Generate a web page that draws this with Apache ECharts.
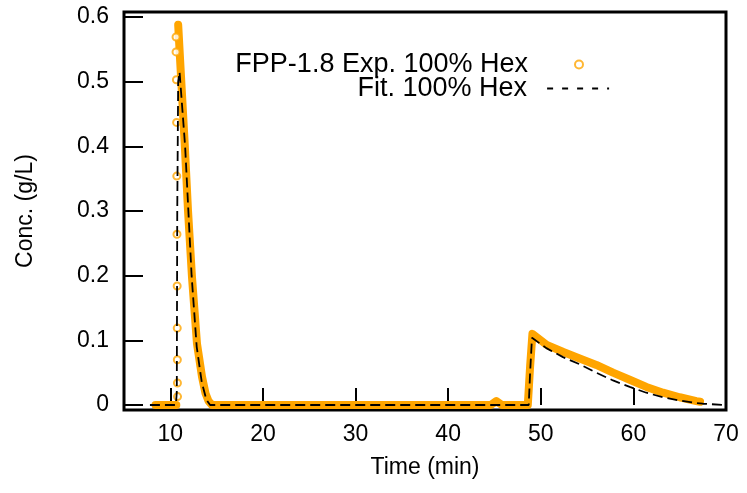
<!DOCTYPE html>
<html>
<head>
<meta charset="utf-8">
<script src="https://cdn.jsdelivr.net/npm/echarts@6/dist/echarts.min.js"></script>
<style>html,body{margin:0;padding:0;background:#fff;}#c{width:747px;height:493px;}</style>
</head>
<body>
<div id="c"></div>
<script>
const expName = 'FPP-1.8 Exp. 100% Hex';
const fitName = 'Fit. 100% Hex';
const xTickLabels = [10, 20, 30, 40, 50, 60, 70];
const xTicks = [10, 20, 30, 40, 50, 60];
const yTickLabels = [0, 0.1, 0.2, 0.3, 0.4, 0.5, 0.6];

// experimental: baseline before injection, then (gap) falling peak, plateau, second peak
const expLine = [
  [8.4, 0], [10.65, 0], [10.7, null],
  [10.85, 0.588], [11.16, 0.507], [11.55, 0.405], [11.91, 0.301], [12.34, 0.198],
  [12.88, 0.095], [13.42, 0.044], [13.8, 0.018], [14.13, 0.006], [14.5, 0.0],
  [44.6, 0], [45.2, 0.006], [45.8, 0], [48.6, 0], [48.85, 0.06], [49.1, 0.110],
  [50.64, 0.093], [52.43, 0.082], [54.2, 0.072], [56.0, 0.062], [57.8, 0.050],
  [59.6, 0.039], [61.4, 0.028], [63.2, 0.019], [65.0, 0.012], [66.8, 0.006], [67.2, 0.005]
];
// experimental: sparse points on the steep rise
const expRise = [
  [10.78, 0.013], [10.77, 0.034], [10.76, 0.070], [10.75, 0.119], [10.74, 0.184],
  [10.72, 0.264], [10.70, 0.354], [10.68, 0.437], [10.66, 0.503], [10.62, 0.546], [10.62, 0.569]
];
// fit
const fitLine = [
  [7.8, 0], [10.6, 0], [10.7, 0.02], [10.75, 0.3], [10.85, 0.5], [11.0, 0.515],
  [11.6, 0.40], [12.3, 0.20], [12.85, 0.09], [13.4, 0.035], [13.9, 0.008], [14.3, 0],
  [48.7, 0], [48.85, 0.05], [49.05, 0.104], [50.6, 0.088], [52.4, 0.074], [54.2, 0.063],
  [56.0, 0.050], [57.8, 0.038], [59.6, 0.028], [61.4, 0.019], [63.2, 0.012],
  [65.0, 0.007], [66.8, 0.003], [67.5, 0.002], [70, 0]
];

const FONT = "'Liberation Sans', Arial, sans-serif";
const ORANGE = '#FFA500';
const chart = echarts.init(document.getElementById('c'), null, {renderer: 'canvas'});
chart.setOption({
  animation: false,
  backgroundColor: '#fff',
  textStyle: {fontFamily: FONT},
  grid: {left: 124, right: 21, top: 12, bottom: 83, show: true, borderColor: '#000', borderWidth: 3, backgroundColor: 'transparent'},
  legend: [
    {
      data: [expName],
      orient: 'vertical', align: 'right', right: 163, top: 51, padding: 0,
      itemWidth: 62, itemHeight: 8, selectedMode: false,
      textStyle: {fontSize: 27, color: '#000', fontFamily: FONT, padding: [0, 15, 0, 0]}
    },
    {
      data: [fitName],
      orient: 'vertical', align: 'right', right: 137, top: 75, padding: 0,
      itemWidth: 62, itemHeight: 8, selectedMode: false,
      lineStyle: {type: [6, 9], width: 1.8, color: '#000'},
      textStyle: {fontSize: 27, color: '#000', fontFamily: FONT, padding: [0, 15, 0, 0]}
    }
  ],
  xAxis: {
    type: 'value', min: 5, max: 70,
    name: 'Time (min)', nameLocation: 'middle', nameGap: 46,
    nameTextStyle: {fontSize: 23, color: '#000', fontFamily: FONT},
    axisLine: {show: false},
    splitLine: {show: false},
    axisTick: {show: true, inside: true, length: 17, customValues: xTicks, lineStyle: {color: '#000', width: 2}},
    axisLabel: {customValues: xTickLabels, fontSize: 23, color: '#000', margin: 13, fontFamily: FONT}
  },
  yAxis: {
    type: 'value', min: -0.0077, max: 0.6077,
    name: 'Conc. (g/L)', nameLocation: 'middle', nameGap: 87,
    nameTextStyle: {fontSize: 23, color: '#000', fontFamily: FONT},
    axisLine: {show: false},
    splitLine: {show: false},
    axisTick: {show: true, inside: true, length: 19, customValues: yTickLabels, lineStyle: {color: '#000', width: 2}},
    axisLabel: {customValues: yTickLabels, fontSize: 23, color: '#000', margin: 15, fontFamily: FONT,
      formatter: v => String(Math.round(v * 10) / 10)}
  },
  series: [
    {
      name: expName, type: 'scatter', data: expRise, symbol: 'emptyCircle', symbolSize: 7, z: 2,
      itemStyle: {color: ORANGE, borderColor: ORANGE, borderWidth: 1.6}
    },
    {
      name: expName, type: 'line', data: expLine, showSymbol: false, symbol: 'none',
      connectNulls: false, z: 2,
      lineStyle: {color: ORANGE, width: 8, cap: 'round', join: 'round'},
      itemStyle: {color: ORANGE}
    },
    {
      name: fitName, type: 'line', data: fitLine, showSymbol: false, symbol: 'none', z: 3,
      lineStyle: {color: '#000', width: 1.8, type: [10, 5]},
      itemStyle: {color: 'rgba(0,0,0,0)'}
    }
  ]
});
</script>
</body>
</html>
